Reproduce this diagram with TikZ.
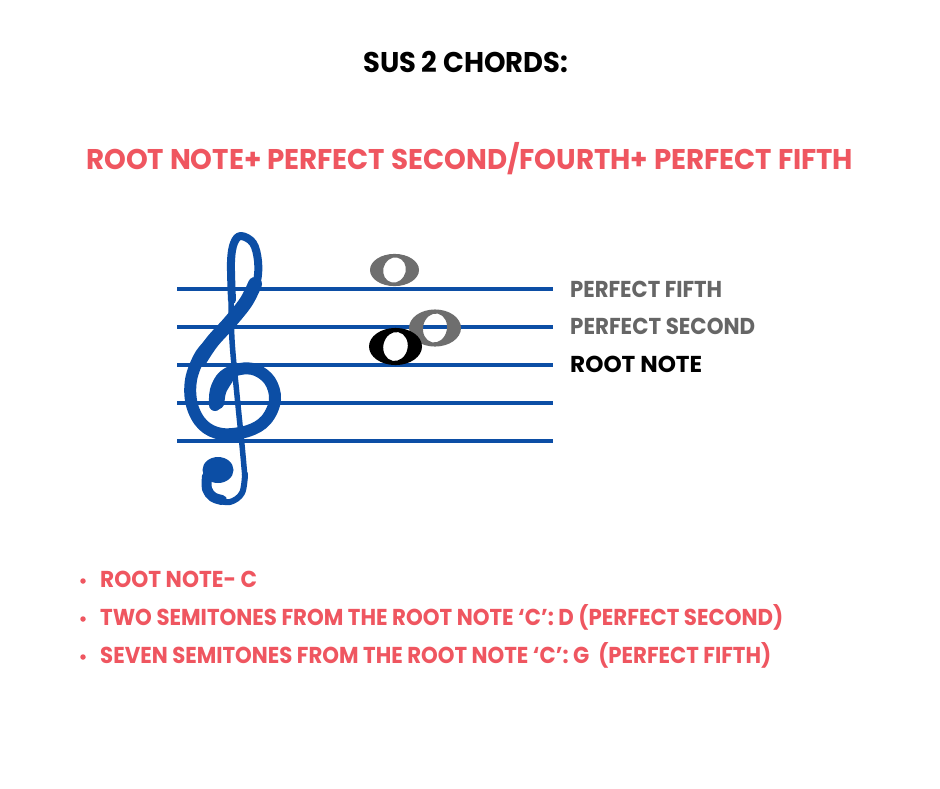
\documentclass[tikz,border=0pt]{standalone}
\usepackage{fontspec}
\setmainfont{Poppins}
\usepackage{graphicx}
\definecolor{accent}{RGB}{239,86,96}
\definecolor{staffblue}{RGB}{12,78,165}
\definecolor{notegray}{RGB}{110,110,110}
\definecolor{labelgray}{RGB}{102,102,102}
\newcommand{\fitw}[2]{\resizebox{#1}{\height}{#2}}
\begin{document}
\begin{tikzpicture}[x=1pt,y=-1pt,
  txt/.style={inner sep=0pt, anchor=base west},
  bigtxt/.style={txt, font=\bfseries\fontsize{28.5}{30}\selectfont},
  smalltxt/.style={txt, font=\bfseries\fontsize{23}{25}\selectfont},
  staffline/.style={staffblue, line width=3.5pt},
  clefstroke/.style={staffblue, line cap=round, line join=round},
  bulletdot/.style={circle, fill=accent, inner sep=0pt, minimum size=5.5pt},
  wnote/.pic={\fill[even odd rule] (0,0) ellipse [x radius=25pt, y radius=17.5pt]
     (0,0) ellipse [x radius=11.5pt, y radius=13.8pt, rotate=-12];}
]
\useasboundingbox (0,0) rectangle (940,788);
\fill[white] (0,0) rectangle (940,788);

% title and formula
\node[bigtxt, text=black] (title) at (363,72) {\fitw{205pt}{SUS 2 CHORDS:}};
\node[bigtxt, text=accent] (formula) at (86,169) {\fitw{767pt}{ROOT NOTE+ PERFECT SECOND/FOURTH+ PERFECT FIFTH}};

% staff
\foreach \yy in {289,327,365,403,441}
  \draw[staffline] (177,\yy) -- (553,\yy);

% treble clef
\draw[clefstroke, line width=5.5pt] plot[smooth, tension=0.6] coordinates
  {(231,290) (232,340) (237,395) (242,445) (245,478)};
\draw[clefstroke, line width=6pt] plot[smooth, tension=0.6] coordinates
  {(245,474) (242,493) (230,502) (216,500)};
\draw[clefstroke, line width=10pt] plot[smooth, tension=0.6] coordinates
  {(222,500) (213,497) (207,489) (207,476)};
\fill[staffblue] (218,470) ellipse [x radius=15.5pt, y radius=13pt];
\draw[clefstroke, line width=8pt] plot[smooth, tension=0.6] coordinates
  {(232,300) (231,262) (234,243) (241,236) (253,243) (258,261) (257,281) (250,293)};
\draw[clefstroke, line width=14pt] plot[smooth, tension=0.6] coordinates
  {(255,284) (246,302) (230,322) (212,342) (200,360)};
\draw[clefstroke, line width=12pt] plot[smooth, tension=0.6] coordinates
  {(212,342) (200,356) (191,380) (192,405) (203,425) (222,434) (248,431) (266,420) (275,400) (270,381) (256,370) (240,369) (224,376) (216,390) (215,405)};
\draw[clefstroke, line width=15pt] plot[smooth, tension=0.6] coordinates
  {(226,378) (219,390) (217,402)};

% notes
\pic[color=notegray, xscale=0.98, yscale=0.92] (n5) at (394.5,270) {wnote};
\pic[color=notegray, xscale=1.04, yscale=1.06] (n2) at (435,328) {wnote};
\pic[color=black, xscale=1.06, yscale=1.06] (n1) at (395.5,346.5) {wnote};

% labels
\node[smalltxt, text=labelgray] (l5) at (570,297) {\fitw{152pt}{PERFECT FIFTH}};
\node[smalltxt, text=labelgray] (l2) at (570,334) {\fitw{185pt}{PERFECT SECOND}};
\node[smalltxt, text=black] (l1) at (570,372) {\fitw{132pt}{ROOT NOTE}};

% bullets
\node[bulletdot] (d1) at (83,581) {};
\node[bulletdot] (d2) at (83,619) {};
\node[bulletdot] (d3) at (83,657) {};
\node[smalltxt, text=accent] (b1) at (100,587) {\fitw{157pt}{ROOT NOTE- C}};
\node[smalltxt, text=accent] (b2) at (100,625) {\fitw{683pt}{TWO SEMITONES FROM THE ROOT NOTE ‘C’: D (PERFECT SECOND)}};
\node[smalltxt, text=accent] (b3) at (100,663) {\fitw{671pt}{SEVEN SEMITONES FROM THE ROOT NOTE ‘C’: G\ \ (PERFECT FIFTH)}};
\end{tikzpicture}
\end{document}
